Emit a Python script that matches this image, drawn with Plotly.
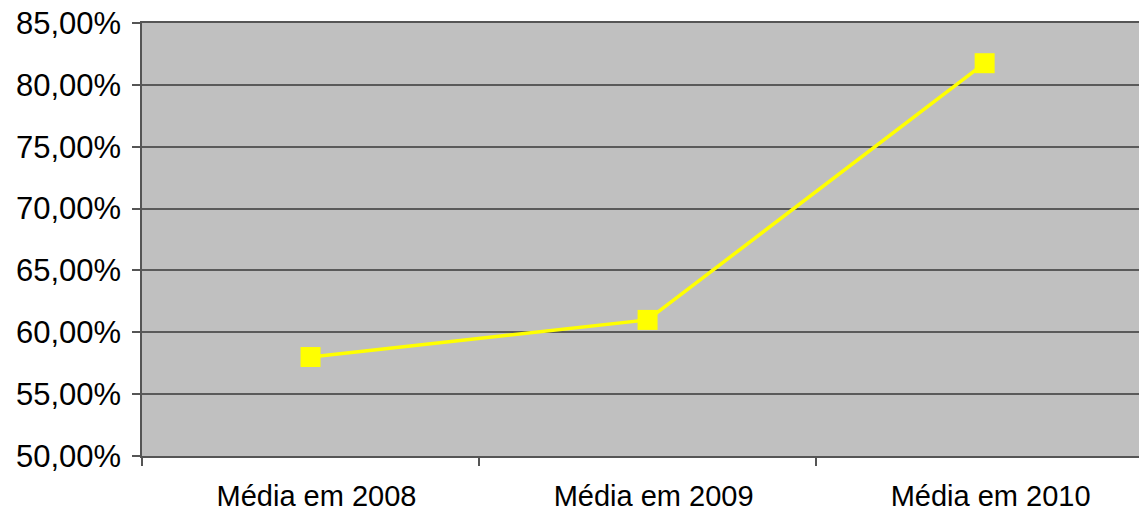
import plotly.graph_objects as go

categories = ["Média em 2008", "Média em 2009", "Média em 2010"]
values = [0.580, 0.610, 0.8175]

fig = go.Figure()
fig.add_trace(go.Scatter(
    x=categories, y=values, mode="lines+markers",
    line=dict(color="#FFFF00", width=3.5),
    marker=dict(symbol="square", size=20, color="#FFFF00"),
    showlegend=False,
))

fig.update_layout(
    width=1139, height=512,
    margin=dict(l=142, r=0, t=23, b=56),
    paper_bgcolor="white", plot_bgcolor="#C0C0C0",
    separators=",.",
    font=dict(family="Liberation Sans, Arial, sans-serif", size=29, color="black"),
)
fig.update_xaxes(
    type="category", range=[-0.5, 2.458],
    tickson="boundaries", ticks="outside", ticklen=8, tickcolor="#555555", tickwidth=1.5,
    showline=True, linecolor="#555555", linewidth=1.5, mirror=True,
    showgrid=False, zeroline=False,
    tickfont=dict(size=29), ticklabelshift=6, ticklabelstandoff=13,
)
fig.update_yaxes(
    range=[0.5, 0.85], dtick=0.05, tick0=0.5, tickformat=".2%",
    ticks="outside", ticklen=8, tickcolor="#555555", tickwidth=1.5,
    showline=True, linecolor="#555555", linewidth=1.5,
    showgrid=True, gridcolor="#5a5a5a", gridwidth=1.5, zeroline=False,
    tickfont=dict(size=31), ticklabelstandoff=5,
)
fig.write_html(
    "out.html",
    config={"displayModeBar": False},
    post_script="document.body.style.margin='0px';document.body.style.overflow='hidden';",
)
